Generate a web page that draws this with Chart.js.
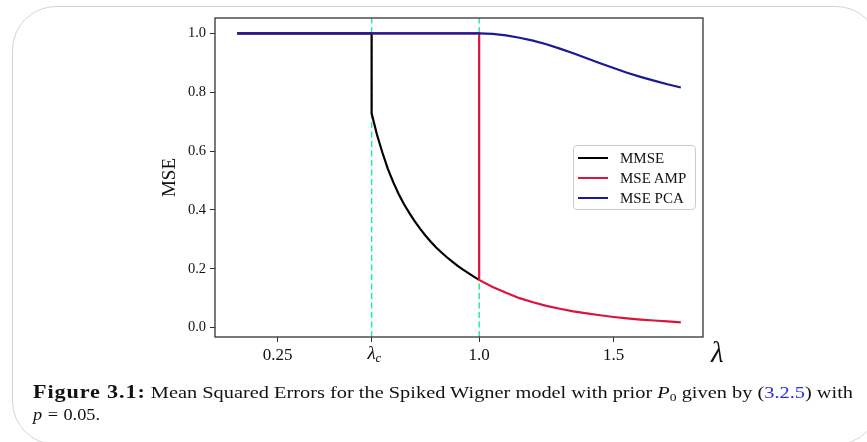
<!DOCTYPE html>
<html>
<head>
<meta charset="utf-8">
<script src="https://cdn.jsdelivr.net/npm/chart.js@4"></script>
<style>
  html, body { margin: 0; padding: 0; background: #fff; }
  body { width: 867px; height: 442px; position: relative; overflow: hidden; }
  #frame { position: absolute; left: 12px; top: 6px; width: 868px; height: 439px; box-sizing: border-box;
           border: 1px solid #d4d4d4; border-radius: 44px; }
  #mseChart { position: absolute; left: 0; top: 0; }
  #legend { position: absolute; left: 573px; top: 145px; width: 123px; height: 65px; box-sizing: border-box;
            border: 1px solid #cccccc; border-radius: 4px; background: rgba(255,255,255,0.85);
            font: 15px "Liberation Serif", serif; color: #111; padding-top: 2px; }
  #legend .row { height: 20px; display: flex; align-items: center; }
  #legend .swatch { width: 30px; height: 2px; margin-left: 4px; margin-right: 12px; }
  #caption { position: absolute; left: 33px; top: 382px; font: 16.5px/21.7px "Liberation Serif", serif;
             color: #111; white-space: nowrap; }
  #caption .line { width: max-content; transform-origin: 0 0; }
  #capBold { font-weight: bold; font-size: 18px; letter-spacing: 0.7px; }
  #caption sub { font-size: 11px; line-height: 0; vertical-align: -3px; }
  #caption .ref { color: #2b2bf0; }
  #caption .eq { margin: 0 5px; }
</style>
</head>
<body>
<div id="frame"></div>
<canvas id="mseChart" width="867" height="442"></canvas>
<div id="legend"></div>
<div id="caption">
  <div class="line" id="capLine1"><span id="capBold">Figure 3.1:</span> Mean Squared Errors for the Spiked Wigner model with prior <i>P</i><sub>0</sub> given by (<span class="ref">3.2.5</span>) with</div>
  <div class="line" id="capLine2"><i>p</i><span class="eq">=</span>0.05.</div>
</div>
<script>
// values
const mmseLambda = [0.1, 0.6, 0.6, 0.62, 0.64, 0.66, 0.68, 0.70, 0.72, 0.74, 0.76, 0.78, 0.80,
                    0.82, 0.84, 0.86, 0.88, 0.90, 0.92, 0.94, 0.96, 0.98, 1.00];
const mmseValues = [1.0, 1.0, 0.728, 0.655, 0.595, 0.540, 0.495, 0.455, 0.420, 0.390, 0.362, 0.336, 0.313,
                    0.292, 0.272, 0.255, 0.239, 0.224, 0.210, 0.197, 0.185, 0.173, 0.162];

const ampLambda = [0.1, 1.0, 1.0, 1.05, 1.10, 1.15, 1.20, 1.25, 1.30, 1.35, 1.40, 1.45, 1.50,
                   1.55, 1.60, 1.65, 1.70, 1.75];
const ampValues = [1.0, 1.0, 0.162, 0.138, 0.118, 0.100, 0.086, 0.074, 0.064, 0.055, 0.048, 0.042, 0.036,
                   0.031, 0.027, 0.024, 0.021, 0.018];

const pcaLambda = [0.1, 1.0, 1.05, 1.10, 1.15, 1.20, 1.25, 1.30, 1.35, 1.40, 1.45, 1.50,
                   1.55, 1.60, 1.65, 1.70, 1.75];
const pcaValues = [1.0, 1.0, 0.998, 0.993, 0.985, 0.975, 0.963, 0.948, 0.932, 0.915, 0.898, 0.882,
                   0.866, 0.852, 0.839, 0.827, 0.816];

const thresholdLambda = [0.6, 1.0];
const yTickValues = [0.0, 0.2, 0.4, 0.6, 0.8, 1.0];
const xTickValues = [0.25, 0.6, 1.0, 1.5];
const xTickLabels = ['0.25', 'λc', '1.0', '1.5'];

const X_MIN = 0.0175, X_MAX = 1.8325;
const Y_MIN = -0.032, Y_MAX = 1.052;
const serif = '"Liberation Serif", "Times New Roman", serif';

function toPoints(xs, ys) {
  return xs.map((x, i) => ({ x: x, y: ys[i] }));
}

const datasets = [
  { label: 'MMSE', data: toPoints(mmseLambda, mmseValues), borderColor: '#000000', order: 3 },
  { label: 'MSE AMP', data: toPoints(ampLambda, ampValues), borderColor: '#dc143c', order: 2 },
  { label: 'MSE PCA', data: toPoints(pcaLambda, pcaValues), borderColor: '#1a1a94', order: 1 }
].map(d => Object.assign(d, { borderWidth: 2.2, pointRadius: 0, tension: 0, fill: false }));

thresholdLambda.forEach(l => {
  datasets.push({
    label: '', data: [{ x: l, y: Y_MIN }, { x: l, y: Y_MAX }],
    borderColor: '#2ee89f', borderWidth: 1.5, borderDash: [6, 3.5], pointRadius: 0, order: 5
  });
});

// full box around the axes, the lambda axis label and the lambda_c tick
const extrasPlugin = {
  id: 'extras',
  afterDraw(chart) {
    const { ctx, chartArea: a, scales } = chart;
    ctx.save();
    ctx.strokeStyle = '#333';
    ctx.lineWidth = 1.3;
    ctx.strokeRect(a.left, a.top, a.right - a.left, a.bottom - a.top);

    ctx.fillStyle = '#111';
    ctx.textBaseline = 'alphabetic';
    xTickLabels.forEach((lab, i) => {
      if (lab.charAt(0) !== 'λ') return;
      const px = scales.x.getPixelForValue(xTickValues[i]);
      ctx.font = 'italic 19px ' + serif;
      ctx.textAlign = 'right';
      ctx.fillText(lab.charAt(0), px + 4, a.bottom + 22);
      ctx.font = 'italic 13px ' + serif;
      ctx.textAlign = 'left';
      ctx.fillText(lab.slice(1), px + 4, a.bottom + 25);
    });

    ctx.font = 'italic 29px ' + serif;
    ctx.textAlign = 'left';
    ctx.fillText('λ', a.right + 8, a.bottom + 25);
    ctx.restore();
  }
};

const chartConfig = {
  type: 'line',
  data: { datasets: datasets },
  options: {
    responsive: false,
    animation: false,
    layout: { padding: { left: 150, right: 164, top: 18, bottom: 65 } },
    plugins: { legend: { display: false }, tooltip: { enabled: false } },
    scales: {
      x: {
        type: 'linear', min: X_MIN, max: X_MAX,
        afterFit(scale) { scale.height = 40; },
        afterBuildTicks(scale) { scale.ticks = xTickValues.map(v => ({ value: v })); },
        grid: { drawOnChartArea: false, tickLength: 5, tickColor: '#333' },
        border: { display: false },
        ticks: {
          padding: 3, color: '#111', font: { family: serif, size: 17 }, maxRotation: 0, autoSkip: false,
          callback: (v, i) => (xTickLabels[i].charAt(0) === 'λ' ? '' : xTickLabels[i])
        }
      },
      y: {
        type: 'linear', min: Y_MIN, max: Y_MAX,
        afterFit(scale) { scale.width = 65; },
        afterBuildTicks(scale) { scale.ticks = yTickValues.map(v => ({ value: v })); },
        grid: { drawOnChartArea: false, tickLength: 5, tickColor: '#333' },
        border: { display: false },
        ticks: { padding: 4, color: '#111', font: { family: serif, size: 14.5 }, callback: v => v.toFixed(1) },
        title: { display: true, text: 'MSE', color: '#111', font: { family: serif, size: 19 }, padding: { top: 9, bottom: 0 } }
      }
    }
  },
  plugins: [extrasPlugin]
};

const mseChart = new Chart(document.getElementById('mseChart').getContext('2d'), chartConfig);

// legend built from the chart's own datasets
const legendBox = document.getElementById('legend');
mseChart.data.datasets.filter(d => d.label).forEach(d => {
  const row = document.createElement('div');
  row.className = 'row';
  const sw = document.createElement('span');
  sw.className = 'swatch';
  sw.style.background = d.borderColor;
  const tx = document.createElement('span');
  tx.textContent = d.label;
  row.appendChild(sw);
  row.appendChild(tx);
  legendBox.appendChild(row);
});

// Computer Modern is wider than Times: stretch each caption line to the original width
function stretchLine(id, targetWidth) {
  const el = document.getElementById(id);
  el.style.transform = 'none';
  const w = el.getBoundingClientRect().width;
  el.style.transform = 'scaleX(' + (targetWidth / w) + ')';
}
function fitCaption() {
  stretchLine('capLine1', 853 - 33);
  stretchLine('capLine2', 67);
}
fitCaption();
if (document.fonts) document.fonts.ready.then(fitCaption);
</script>
</body>
</html>
